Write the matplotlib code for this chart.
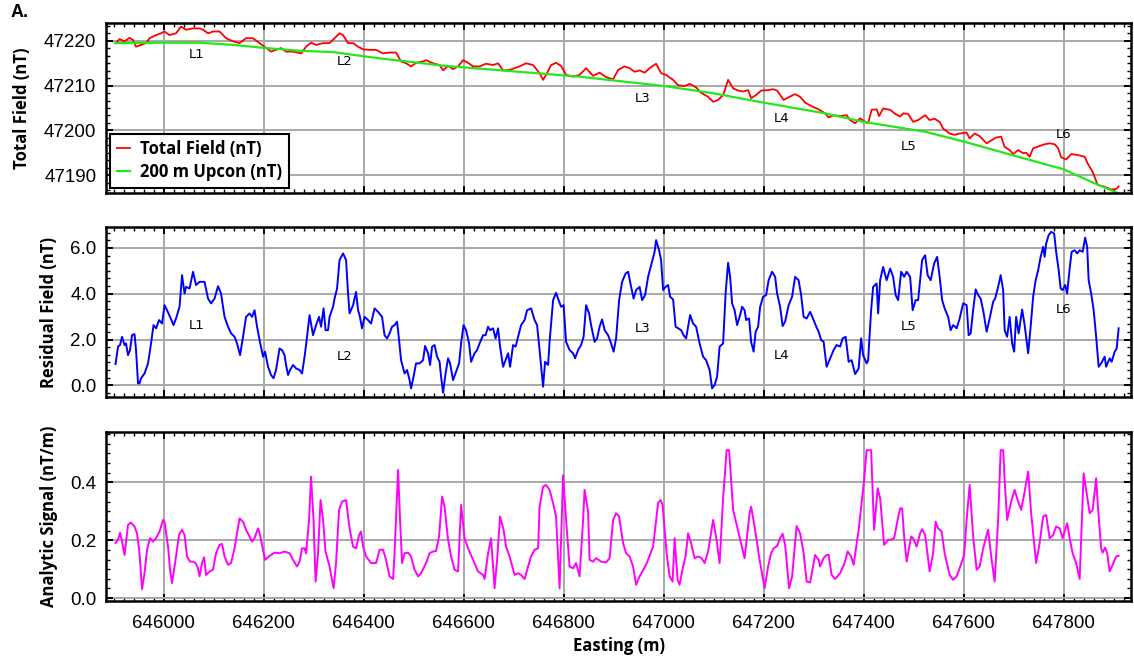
import numpy as np
import matplotlib.pyplot as plt
from matplotlib.ticker import MultipleLocator, AutoMinorLocator, FormatStrFormatter

# (easting m, total field nT)
total_field = np.array([
    [645904, 47219.5], [645912, 47220.4], [645922, 47219.9], [645932, 47220.7], [645939, 47220.2],
    [645945, 47218.7], [645955, 47219.1], [645965, 47219.5], [645972, 47220.6], [645985, 47221.3],
    [645995, 47221.7], [646002, 47222.1], [646012, 47221.3], [646025, 47221.7], [646035, 47223.2],
    [646045, 47222.5], [646059, 47222.8], [646072, 47222.8], [646079, 47222.5], [646089, 47221.7],
    [646099, 47222.1], [646112, 47222.1], [646125, 47220.6], [646139, 47219.9], [646152, 47219.5],
    [646165, 47220.6], [646179, 47220.6], [646192, 47219.5], [646202, 47218.7], [646215, 47217.6],
    [646225, 47218.0], [646235, 47218.4], [646245, 47217.6], [646259, 47217.6], [646275, 47217.2],
    [646285, 47218.7], [646295, 47219.6], [646305, 47219.1], [646319, 47219.5], [646332, 47219.5],
    [646342, 47220.6], [646352, 47221.7], [646359, 47221.3], [646369, 47219.5], [646379, 47219.5],
    [646389, 47218.7], [646399, 47218.1], [646412, 47218.0], [646425, 47218.0], [646439, 47217.2],
    [646452, 47217.4], [646465, 47217.4], [646475, 47215.4], [646485, 47215.0], [646495, 47214.3],
    [646505, 47215.1], [646519, 47215.4], [646525, 47215.7], [646539, 47215.0], [646552, 47214.6],
    [646559, 47213.4], [646569, 47214.4], [646579, 47213.7], [646589, 47214.3], [646599, 47215.7],
    [646609, 47215.1], [646619, 47214.3], [646632, 47214.3], [646645, 47214.9], [646659, 47214.6],
    [646669, 47215.0], [646679, 47213.4], [646692, 47213.5], [646702, 47213.9], [646712, 47214.3],
    [646725, 47215.0], [646739, 47214.6], [646752, 47212.8], [646759, 47211.3], [646765, 47212.4],
    [646775, 47214.6], [646785, 47215.1], [646795, 47214.4], [646805, 47212.4], [646819, 47212.0],
    [646832, 47212.4], [646845, 47213.9], [646859, 47212.2], [646872, 47212.9], [646885, 47211.9],
    [646899, 47211.4], [646909, 47213.5], [646922, 47214.3], [646932, 47213.9], [646942, 47213.1],
    [646952, 47213.4], [646962, 47212.9], [646972, 47213.9], [646985, 47214.9], [646995, 47212.8],
    [647005, 47212.4], [647019, 47211.3], [647029, 47210.1], [647042, 47209.9], [647052, 47210.4],
    [647065, 47209.6], [647075, 47208.4], [647089, 47207.5], [647099, 47206.4], [647109, 47206.8],
    [647119, 47207.9], [647129, 47211.3], [647139, 47209.4], [647149, 47208.9], [647159, 47208.7],
    [647169, 47209.0], [647175, 47207.2], [647185, 47207.9], [647195, 47208.9], [647209, 47209.0],
    [647219, 47209.2], [647227, 47208.9], [647240, 47206.8], [647250, 47207.4], [647263, 47208.1],
    [647273, 47207.5], [647283, 47206.2], [647296, 47205.4], [647310, 47204.7], [647323, 47203.8],
    [647330, 47202.9], [647340, 47203.4], [647353, 47203.2], [647366, 47203.4], [647373, 47202.3],
    [647383, 47201.6], [647393, 47202.7], [647403, 47201.9], [647409, 47201.6], [647416, 47204.6],
    [647426, 47204.7], [647431, 47203.2], [647439, 47204.9], [647453, 47204.6], [647463, 47203.7],
    [647473, 47203.1], [647479, 47203.8], [647489, 47203.7], [647499, 47201.9], [647509, 47202.3],
    [647523, 47203.4], [647532, 47202.3], [647542, 47202.6], [647552, 47201.9], [647559, 47200.4],
    [647572, 47199.3], [647582, 47199.0], [647592, 47199.3], [647606, 47199.5], [647612, 47198.2],
    [647622, 47199.3], [647632, 47198.7], [647646, 47197.1], [647656, 47197.8], [647665, 47198.4],
    [647675, 47198.6], [647682, 47196.3], [647692, 47195.6], [647699, 47194.7], [647709, 47195.6],
    [647719, 47194.9], [647725, 47195.0], [647732, 47194.1], [647739, 47196.0], [647752, 47196.5],
    [647762, 47196.9], [647772, 47197.1], [647782, 47196.9], [647789, 47196.0], [647795, 47194.0],
    [647805, 47193.5], [647815, 47194.7], [647828, 47194.5], [647842, 47194.1], [647848, 47192.6],
    [647858, 47190.7], [647868, 47187.8], [647882, 47187.4], [647895, 47186.8], [647905, 47186.9],
    [647910, 47187.5],
])

# (easting m, 200 m upward continued field nT), green trace
upcon = np.array([
    [645904, 47219.5], [646005, 47219.6], [646072, 47219.6], [646139, 47219.1], [646205, 47218.4],
    [646272, 47217.8], [646339, 47217.5], [646405, 47216.5], [646432, 47216.1], [646565, 47214.4],
    [646699, 47213.2], [646832, 47212.0], [647002, 47209.9], [647099, 47208.3], [647190, 47206.4],
    [647323, 47203.8], [647400, 47201.9], [647523, 47199.7], [647600, 47197.5], [647722, 47193.7],
    [647800, 47191.3], [647855, 47188.5], [647908, 47186.0],
])

# (easting m, residual field nT), blue trace
residual = np.array([
    [645904, 0.93], [645909, 1.69], [645913, 1.76], [645917, 2.12], [645922, 1.76], [645925, 1.83],
    [645929, 1.32], [645933, 1.54], [645937, 2.19], [645942, 2.24], [645945, 1.54], [645949, 0.09],
    [645952, 0.09], [645955, 0.31], [645962, 0.52], [645969, 0.96], [645975, 1.83], [645980, 2.63],
    [645985, 2.49], [645991, 2.85], [645997, 2.70], [646002, 3.50], [646007, 3.28], [646013, 2.99],
    [646020, 2.63], [646025, 2.92], [646032, 3.43], [646037, 4.81], [646042, 4.01], [646045, 4.30],
    [646052, 4.23], [646059, 4.96], [646065, 4.38], [646072, 4.52], [646082, 4.52], [646089, 3.79],
    [646095, 3.58], [646102, 3.79], [646109, 4.33], [646115, 4.01], [646122, 2.99], [646129, 2.56],
    [646135, 2.27], [646142, 2.12], [646147, 1.83], [646153, 1.32], [646159, 2.12], [646165, 2.99],
    [646172, 3.14], [646177, 2.99], [646182, 3.28], [646187, 2.56], [646192, 1.98], [646199, 1.25],
    [646203, 1.47], [646209, 0.81], [646215, 0.45], [646220, 0.31], [646225, 0.67], [646232, 1.61],
    [646237, 1.54], [646242, 1.32], [646245, 0.89], [646249, 0.45], [646253, 0.67], [646259, 0.89],
    [646265, 0.74], [646272, 0.67], [646277, 0.52], [646282, 1.25], [646285, 1.76], [646292, 3.07],
    [646299, 2.19], [646305, 2.63], [646311, 2.99], [646315, 2.56], [646320, 3.36], [646324, 2.41],
    [646329, 2.41], [646332, 2.99], [646339, 3.43], [646342, 3.79], [646347, 4.23], [646352, 5.47],
    [646359, 5.76], [646365, 5.47], [646369, 4.01], [646372, 3.14], [646379, 3.50], [646385, 4.08],
    [646389, 3.28], [646392, 3.07], [646397, 2.49], [646402, 2.99], [646409, 2.85], [646415, 2.70],
    [646422, 3.36], [646429, 3.21], [646437, 2.99], [646442, 2.19], [646447, 2.05], [646452, 2.27],
    [646457, 2.56], [646462, 2.63], [646467, 2.78], [646471, 1.98], [646475, 1.10], [646482, 0.52],
    [646487, 0.67], [646492, 0.23], [646495, -0.13], [646500, 0.38], [646505, 0.96], [646512, 0.96],
    [646519, 1.10], [646523, 1.72], [646529, 1.40], [646533, 0.89], [646537, 1.69], [646542, 1.76],
    [646547, 1.25], [646552, 1.03], [646555, 0.38], [646559, -0.32], [646564, 0.52], [646569, 1.18],
    [646573, 0.96], [646579, 0.23], [646585, 0.60], [646591, 0.96], [646595, 1.83], [646600, 2.63],
    [646605, 2.41], [646611, 1.83], [646615, 1.03], [646622, 1.40], [646627, 1.54], [646632, 1.83],
    [646639, 2.19], [646644, 2.19], [646649, 2.56], [646653, 2.41], [646659, 2.49], [646664, 2.05],
    [646669, 2.49], [646673, 1.69], [646679, 0.81], [646684, 1.10], [646689, 1.40], [646693, 0.81],
    [646699, 1.76], [646704, 1.69], [646709, 2.12], [646715, 2.63], [646722, 2.85], [646727, 3.28],
    [646735, 3.36], [646742, 2.85], [646747, 2.63], [646752, 1.54], [646759, -0.06], [646763, 1.03],
    [646769, 0.89], [646772, 1.90], [646779, 3.72], [646785, 4.04], [646790, 3.72], [646795, 3.43],
    [646800, 3.50], [646805, 1.90], [646812, 1.54], [646819, 1.40], [646823, 1.18], [646829, 1.54],
    [646835, 1.76], [646840, 2.12], [646845, 3.50], [646851, 3.14], [646855, 2.63], [646862, 1.90],
    [646867, 2.05], [646872, 2.56], [646877, 2.88], [646882, 2.41], [646889, 2.19], [646895, 1.83],
    [646900, 1.47], [646905, 2.05], [646911, 3.72], [646917, 4.52], [646924, 4.88], [646929, 4.96],
    [646933, 4.52], [646940, 3.79], [646945, 4.16], [646952, 4.30], [646957, 3.72], [646963, 3.94],
    [646969, 4.74], [646975, 5.25], [646982, 5.83], [646985, 6.34], [646991, 5.90], [646995, 5.47],
    [646999, 4.16], [647004, 4.30], [647009, 4.38], [647013, 3.87], [647019, 3.75], [647024, 2.56],
    [647029, 2.49], [647035, 2.41], [647040, 2.19], [647045, 2.05], [647053, 3.07], [647059, 2.70],
    [647065, 2.56], [647072, 1.83], [647079, 1.25], [647085, 1.10], [647092, 0.67], [647097, -0.13],
    [647102, 0.01], [647107, 0.38], [647112, 1.69], [647119, 1.83], [647124, 4.01], [647129, 5.35],
    [647133, 4.74], [647137, 3.58], [647142, 3.28], [647147, 2.63], [647152, 2.99], [647157, 3.43],
    [647162, 3.28], [647165, 2.85], [647171, 2.92], [647175, 1.90], [647180, 1.47], [647184, 2.34],
    [647189, 2.56], [647193, 3.43], [647199, 3.87], [647205, 3.94], [647210, 4.59], [647217, 4.96],
    [647223, 4.74], [647227, 4.01], [647233, 3.43], [647238, 2.59], [647243, 2.78], [647250, 3.50],
    [647257, 3.87], [647263, 4.74], [647270, 4.59], [647275, 3.94], [647280, 2.99], [647286, 2.92],
    [647293, 3.21], [647300, 2.85], [647304, 2.63], [647310, 2.34], [647315, 1.98], [647320, 1.90],
    [647326, 0.81], [647333, 1.18], [647340, 1.54], [647346, 1.76], [647353, 1.69], [647358, 2.05],
    [647364, 2.12], [647370, 1.03], [647376, 1.10], [647383, 0.49], [647390, 0.74], [647395, 2.05],
    [647399, 1.32], [647406, 0.96], [647409, 1.10], [647415, 3.28], [647419, 4.30], [647426, 4.45],
    [647429, 3.14], [647433, 4.59], [647439, 5.17], [647446, 4.59], [647453, 5.10], [647459, 4.74],
    [647464, 3.94], [647469, 3.72], [647475, 4.96], [647481, 4.74], [647486, 4.96], [647493, 4.74],
    [647498, 3.28], [647504, 3.72], [647509, 3.72], [647517, 5.47], [647523, 5.68], [647528, 4.81],
    [647534, 4.59], [647541, 5.32], [647547, 5.61], [647552, 4.74], [647557, 3.72], [647562, 3.36],
    [647569, 2.99], [647574, 2.41], [647579, 2.63], [647586, 2.49], [647592, 2.92], [647599, 3.58],
    [647606, 3.50], [647610, 2.19], [647614, 2.27], [647619, 3.28], [647624, 4.19], [647629, 3.94],
    [647634, 3.79], [647639, 3.28], [647646, 2.34], [647652, 2.92], [647659, 3.65], [647663, 3.79],
    [647669, 4.30], [647674, 4.81], [647679, 4.16], [647682, 2.41], [647687, 2.12], [647692, 2.99],
    [647697, 1.83], [647701, 1.47], [647705, 2.99], [647710, 2.27], [647717, 3.31], [647722, 2.63],
    [647729, 1.40], [647734, 2.56], [647739, 3.87], [647744, 4.59], [647749, 5.03], [647754, 5.61],
    [647759, 6.05], [647762, 5.61], [647765, 6.19], [647770, 6.56], [647775, 6.70], [647781, 6.63],
    [647785, 5.83], [647790, 5.03], [647794, 4.23], [647798, 4.16], [647803, 4.38], [647807, 4.01],
    [647812, 5.10], [647816, 5.83], [647822, 5.90], [647827, 5.76], [647832, 5.90], [647838, 5.83],
    [647843, 6.45], [647847, 6.05], [647850, 4.59], [647855, 4.01], [647860, 3.28], [647865, 2.12],
    [647870, 0.81], [647875, 0.96], [647882, 1.25], [647885, 0.81], [647892, 1.18], [647896, 1.03],
    [647902, 1.47], [647906, 1.61], [647910, 2.49],
])

# (easting m, analytic signal nT/m), magenta trace
analytic = np.array([
    [645904, 0.190], [645909, 0.201], [645913, 0.226], [645917, 0.195], [645922, 0.149], [645929, 0.253],
    [645935, 0.261], [645942, 0.247], [645947, 0.224], [645952, 0.155], [645957, 0.031], [645962, 0.086],
    [645967, 0.167], [645973, 0.207], [645979, 0.195], [645985, 0.207], [645992, 0.230], [645999, 0.270],
    [646002, 0.264], [646009, 0.178], [646013, 0.098], [646017, 0.052], [646024, 0.132], [646031, 0.218],
    [646037, 0.236], [646042, 0.218], [646047, 0.144], [646053, 0.126], [646059, 0.126], [646064, 0.121],
    [646069, 0.103], [646072, 0.075], [646077, 0.121], [646081, 0.141], [646085, 0.080], [646092, 0.092],
    [646099, 0.098], [646105, 0.155], [646112, 0.184], [646117, 0.187], [646122, 0.144], [646129, 0.115],
    [646135, 0.121], [646142, 0.172], [646147, 0.224], [646152, 0.275], [646159, 0.264], [646165, 0.236],
    [646172, 0.213], [646177, 0.195], [646182, 0.207], [646189, 0.241], [646193, 0.218], [646199, 0.167],
    [646203, 0.132], [646212, 0.146], [646222, 0.157], [646232, 0.155], [646242, 0.161], [646252, 0.155],
    [646259, 0.132], [646267, 0.109], [646272, 0.126], [646277, 0.172], [646282, 0.172], [646285, 0.155],
    [646291, 0.270], [646295, 0.420], [646300, 0.270], [646304, 0.057], [646309, 0.155], [646314, 0.339],
    [646319, 0.270], [646324, 0.161], [646332, 0.109], [646340, 0.034], [646345, 0.121], [646351, 0.305],
    [646357, 0.333], [646365, 0.339], [646372, 0.241], [646379, 0.178], [646385, 0.172], [646391, 0.218],
    [646395, 0.230], [646399, 0.178], [646405, 0.144], [646415, 0.121], [646425, 0.121], [646432, 0.167],
    [646439, 0.167], [646445, 0.132], [646452, 0.075], [646459, 0.066], [646462, 0.155], [646469, 0.443],
    [646473, 0.270], [646477, 0.121], [646482, 0.155], [646489, 0.157], [646495, 0.144], [646502, 0.098],
    [646509, 0.075], [646515, 0.086], [646525, 0.121], [646532, 0.155], [646539, 0.161], [646545, 0.163],
    [646551, 0.213], [646557, 0.351], [646562, 0.316], [646569, 0.201], [646575, 0.144], [646582, 0.098],
    [646589, 0.092], [646595, 0.322], [646602, 0.207], [646609, 0.172], [646619, 0.132], [646629, 0.092],
    [646639, 0.080], [646642, 0.066], [646649, 0.155], [646655, 0.207], [646662, 0.034], [646667, 0.132],
    [646673, 0.282], [646680, 0.236], [646685, 0.178], [646692, 0.144], [646702, 0.080], [646709, 0.086],
    [646715, 0.080], [646722, 0.066], [646729, 0.109], [646735, 0.144], [646742, 0.167], [646749, 0.172],
    [646752, 0.316], [646759, 0.385], [646765, 0.391], [646772, 0.374], [646779, 0.328], [646785, 0.282],
    [646792, 0.034], [646799, 0.425], [646805, 0.270], [646812, 0.109], [646819, 0.103], [646825, 0.121],
    [646832, 0.075], [646839, 0.270], [646842, 0.374], [646849, 0.299], [646852, 0.132], [646859, 0.126],
    [646865, 0.138], [646875, 0.126], [646885, 0.123], [646892, 0.138], [646899, 0.270], [646905, 0.293],
    [646911, 0.282], [646919, 0.190], [646925, 0.155], [646932, 0.144], [646939, 0.109], [646945, 0.046],
    [646952, 0.075], [646965, 0.115], [646979, 0.178], [646989, 0.328], [646994, 0.339], [646998, 0.322],
    [647006, 0.155], [647012, 0.075], [647018, 0.057], [647022, 0.207], [647028, 0.063], [647032, 0.046],
    [647039, 0.109], [647044, 0.144], [647049, 0.224], [647055, 0.190], [647062, 0.138], [647069, 0.144],
    [647076, 0.138], [647082, 0.121], [647089, 0.161], [647099, 0.270], [647106, 0.201], [647112, 0.121],
    [647119, 0.345], [647126, 0.511], [647131, 0.511], [647139, 0.305], [647147, 0.247], [647155, 0.190],
    [647162, 0.138], [647172, 0.293], [647175, 0.316], [647182, 0.247], [647192, 0.132], [647202, 0.034],
    [647209, 0.109], [647215, 0.155], [647220, 0.172], [647227, 0.180], [647233, 0.207], [647238, 0.222],
    [647243, 0.184], [647251, 0.034], [647257, 0.075], [647266, 0.249], [647273, 0.224], [647280, 0.155],
    [647286, 0.057], [647293, 0.054], [647303, 0.149], [647310, 0.132], [647313, 0.109], [647320, 0.138],
    [647326, 0.149], [647330, 0.149], [647336, 0.080], [647343, 0.066], [647353, 0.086], [647362, 0.121],
    [647368, 0.161], [647375, 0.144], [647380, 0.115], [647390, 0.236], [647396, 0.328], [647401, 0.408],
    [647406, 0.511], [647415, 0.511], [647421, 0.236], [647428, 0.379], [647433, 0.345], [647441, 0.184],
    [647449, 0.201], [647456, 0.203], [647461, 0.207], [647468, 0.270], [647473, 0.310], [647477, 0.310],
    [647481, 0.213], [647486, 0.126], [647495, 0.213], [647499, 0.207], [647506, 0.178], [647513, 0.224],
    [647517, 0.238], [647523, 0.218], [647532, 0.092], [647539, 0.155], [647544, 0.264], [647549, 0.241],
    [647556, 0.230], [647562, 0.155], [647572, 0.080], [647579, 0.063], [647586, 0.075], [647592, 0.103],
    [647601, 0.149], [647606, 0.270], [647612, 0.391], [647619, 0.213], [647626, 0.098], [647632, 0.109],
    [647639, 0.172], [647646, 0.218], [647649, 0.236], [647656, 0.132], [647662, 0.057], [647669, 0.270],
    [647674, 0.511], [647679, 0.511], [647682, 0.408], [647687, 0.270], [647695, 0.333], [647702, 0.374],
    [647709, 0.333], [647715, 0.305], [647722, 0.368], [647729, 0.437], [647735, 0.293], [647745, 0.121],
    [647752, 0.190], [647759, 0.282], [647765, 0.287], [647772, 0.207], [647779, 0.218], [647785, 0.247],
    [647792, 0.241], [647798, 0.207], [647807, 0.259], [647812, 0.207], [647818, 0.155], [647825, 0.121],
    [647832, 0.066], [647840, 0.431], [647845, 0.374], [647852, 0.293], [647858, 0.305], [647865, 0.414],
    [647868, 0.328], [647875, 0.172], [647878, 0.157], [647883, 0.175], [647887, 0.155], [647892, 0.092],
    [647898, 0.115], [647905, 0.144], [647910, 0.146],
])

# etiquetas de las lineas L1..L6
line_names = ["L1", "L2", "L3", "L4", "L5", "L6"]
line_east = [646066, 646362, 646958, 647235, 647489, 647800]
line_tf = [47216.9, 47215.4, 47207.2, 47202.7, 47196.3, 47199.0]
line_res = [2.63, 1.25, 2.49, 1.32, 2.56, 3.33]

LABEL_FONT = "Open Sans"
plt.rcParams["font.family"] = ["Liberation Sans", "DejaVu Sans"]


def style_axis(ax, ymajor, fmt, show_x):
    ax.set_xlim(645885, 647935)
    ax.xaxis.set_major_locator(MultipleLocator(200))
    ax.xaxis.set_minor_locator(MultipleLocator(20))
    ax.yaxis.set_major_locator(MultipleLocator(ymajor))
    ax.yaxis.set_minor_locator(AutoMinorLocator(6))
    ax.yaxis.set_major_formatter(FormatStrFormatter(fmt))
    ax.grid(True, which="major", color="#a8a8a8", lw=1.4)
    ax.set_axisbelow(True)
    ax.tick_params(which="both", direction="in", top=True, right=True,
                   labelsize=13.5, labelbottom=show_x)
    ax.tick_params(axis="y", which="both", pad=7)
    ax.tick_params(axis="x", which="both", pad=10)
    ax.tick_params(which="major", length=5, width=1.4)
    ax.tick_params(which="minor", length=3, width=1.0)
    for s in ax.spines.values():
        s.set_linewidth(1.8)


fig = plt.figure(figsize=(11.34, 6.61), dpi=100)
ax1 = fig.add_axes([0.0935, 0.708, 0.904, 0.2572])
ax2 = fig.add_axes([0.0935, 0.399, 0.904, 0.2571])
ax3 = fig.add_axes([0.0935, 0.0908, 0.904, 0.2561])

# Panel 1: campo total y continuacion ascendente
ax1.plot(total_field[:, 0], total_field[:, 1], color="#ff0000", lw=1.3, label="Total Field (nT)")
ax1.plot(upcon[:, 0], upcon[:, 1], color="#22e81a", lw=1.6, label="200 m Upcon (nT)")
ax1.set_ylim(47186, 47224)
style_axis(ax1, 10, "%d", False)
for name, e, v in zip(line_names, line_east, line_tf):
    ax1.text(e, v, name, ha="center", va="center", fontsize=9.5, family="DejaVu Sans")
leg = ax1.legend(loc="lower left", bbox_to_anchor=(0.004, 0.03), borderaxespad=0,
                 handlelength=0.8, handletextpad=0.6, fancybox=False, framealpha=1,
                 edgecolor="black", borderpad=0.4, labelspacing=0.3,
                 prop={"family": LABEL_FONT, "weight": "bold", "size": 12})
leg.get_frame().set_linewidth(1.5)
ax1.set_ylabel("Total Field (nT)", family=LABEL_FONT, weight="bold", fontsize=12, labelpad=9)

# Panel 2: campo residual
ax2.plot(residual[:, 0], residual[:, 1], color="#0000ff", lw=1.4)
ax2.set_ylim(-0.52, 6.9)
style_axis(ax2, 2.0, "%.1f", False)
for name, e, v in zip(line_names, line_east, line_res):
    ax2.text(e, v, name, ha="center", va="center", fontsize=9.5, family="DejaVu Sans")
ax2.set_ylabel("Residual Field (nT)", family=LABEL_FONT, weight="bold", fontsize=12, labelpad=9)

# Panel 3: senal analitica
ax3.plot(analytic[:, 0], analytic[:, 1], color="#ff00ff", lw=1.4)
ax3.set_ylim(-0.01, 0.575)
style_axis(ax3, 0.2, "%.1f", True)
ax3.set_ylabel("Analytic Signal (nT/m)", family=LABEL_FONT, weight="bold", fontsize=12, labelpad=9)
ax3.set_xlabel("Easting (m)", family=LABEL_FONT, weight="bold", fontsize=12, labelpad=4)

fig.text(0.009, 0.981, "A.", fontsize=13, weight="bold", va="center", ha="left")

fig.savefig("out.png", dpi=100)
